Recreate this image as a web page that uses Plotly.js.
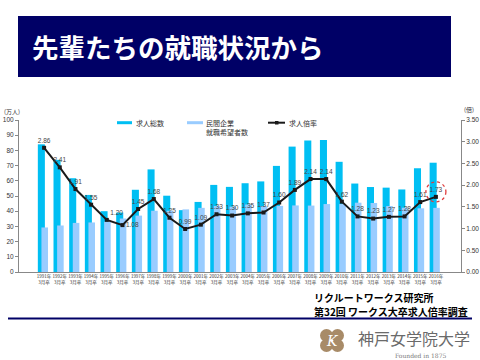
<!DOCTYPE html>
<html>
<head>
<meta charset="utf-8">
<script src="https://cdn.plot.ly/plotly-3.0.1.min.js"></script>
<style>html,body{margin:0;padding:0;background:#fff;}#chart{width:480px;height:360px;}</style>
</head>
<body>
<div id="chart"></div>
<script>
// ---- data ----
const categories = ['1991年<br>3月卒','1992年<br>3月卒','1993年<br>3月卒','1994年<br>3月卒','1995年<br>3月卒','1996年<br>3月卒','1997年<br>3月卒','1998年<br>3月卒','1999年<br>3月卒','2000年<br>3月卒','2001年<br>3月卒','2002年<br>3月卒','2003年<br>3月卒','2004年<br>3月卒','2005年<br>3月卒','2006年<br>3月卒','2007年<br>3月卒','2008年<br>3月卒','2009年<br>3月卒','2010年<br>3月卒','2011年<br>3月卒','2012年<br>3月卒','2013年<br>3月卒','2014年<br>3月卒','2015年<br>3月卒','2016年<br>3月卒'];
const totalJobs = [84.0,73.8,61.7,50.7,40.0,39.1,54.1,67.5,50.2,40.7,46.1,57.3,56.0,58.4,59.6,69.8,82.5,86.5,86.8,72.5,58.2,55.9,55.5,54.3,68.3,71.9];
const applicants = [29.3,30.6,32.3,32.6,33.2,35.2,37.1,40.3,40.3,41.2,42.2,43.4,43.0,44.4,43.3,43.5,43.8,43.7,44.7,44.7,45.6,45.4,43.4,42.3,41.9,42.2];
const ratio = [2.86,2.41,1.91,1.55,1.20,1.08,1.45,1.68,1.25,0.99,1.09,1.33,1.30,1.35,1.37,1.60,1.89,2.14,2.14,1.62,1.28,1.23,1.27,1.28,1.61,1.73];
const ratioLabelPos = ['top center','top center','top center','top center','top right','middle right','top center','top center','top center','top center','top center','top center','top center','top center','top center','top center','top center','top center','top center','top center','top center','top center','top center','top center','top center','top center'];
const seriesNames = ['求人総数','民間企業<br>就職希望者数','求人倍率'];
const sourceLines = ['リクルートワークス研究所','第32回 ワークス大卒求人倍率調査'];

// ---- geometry helpers (pixel -> paper) ----
const PL = 19, PR = 461, PT = 120, PB = 272;
const px = x => (x - PL) / (PR - PL);
const py = y => (PB - y) / (PB - PT);

const JP = '"Noto Sans CJK JP", "Noto Sans", sans-serif';
const cyan = '#00BFF3', light = '#99CCFF', navy = '#000066';

const traces = [
  {type:'bar', x:categories, y:totalJobs, name:seriesNames[0], marker:{color:cyan},
   width:0.45, offset:-0.40, hoverinfo:'skip'},
  {type:'bar', x:categories, y:applicants, name:seriesNames[1], marker:{color:light},
   width:0.42, offset:-0.17, hoverinfo:'skip'},
  {type:'scatter', mode:'lines+markers+text', x:categories, y:ratio, yaxis:'y2', name:seriesNames[2],
   line:{color:'#1a1a1a', width:2}, marker:{color:'#1a1a1a', size:4, symbol:'square'},
   texttemplate:'%{y:.2f}', textposition:ratioLabelPos,
   textfont:{family:'Arial, "Liberation Sans", sans-serif', size:6.5, color:'#444'}, cliponaxis:false}
];

const shapes = [
  {type:'rect', xref:'paper', yref:'paper', x0:px(18), x1:px(451), y0:py(77), y1:py(16), fillcolor:navy, line:{width:0}},
  {type:'line', xref:'paper', yref:'paper', x0:px(117), x1:px(132), y0:py(122.7), y1:py(122.7), line:{color:cyan, width:3}},
  {type:'line', xref:'paper', yref:'paper', x0:px(187), x1:px(203), y0:py(122.7), y1:py(122.7), line:{color:light, width:3}},
  {type:'line', xref:'paper', yref:'paper', x0:px(268), x1:px(285), y0:py(122.7), y1:py(122.7), line:{color:'#1a1a1a', width:2}},
  {type:'rect', xref:'paper', yref:'paper', x0:px(275), x1:px(278.5), y0:py(124.5), y1:py(121), fillcolor:'#1a1a1a', line:{width:0}},
  {type:'circle', xref:'x', yref:'y2', xsizemode:'pixel', ysizemode:'pixel', xanchor:25, yanchor:ratio[25],
   x0:-10, x1:10, y0:-5, y1:15, line:{color:'#E03C3C', width:1.3, dash:'dot'}},
  {type:'line', xref:'paper', yref:'paper', x0:px(8), x1:px(472), y0:py(318.5), y1:py(318.5), line:{color:navy, width:2}},
  {type:'circle', xref:'paper', yref:'paper', x0:px(320), x1:px(333), y0:py(342), y1:py(329), fillcolor:'#A88B68', line:{width:0}},
  {type:'circle', xref:'paper', yref:'paper', x0:px(331), x1:px(344), y0:py(342), y1:py(329), fillcolor:'#A88B68', line:{width:0}},
  {type:'circle', xref:'paper', yref:'paper', x0:px(320), x1:px(333), y0:py(352), y1:py(339), fillcolor:'#A88B68', line:{width:0}},
  {type:'circle', xref:'paper', yref:'paper', x0:px(331), x1:px(344), y0:py(352), y1:py(339), fillcolor:'#A88B68', line:{width:0}}
];

const ann = (x, y, text, opts) => Object.assign({xref:'paper', yref:'paper', x:px(x), y:py(y), text:text,
  showarrow:false, xanchor:'left', yanchor:'middle', font:{family:JP, size:7, color:'#333'}}, opts||{});

const annotations = [
  ann(30, 47, '<b>先輩たちの就職状況から</b>', {font:{family:JP, size:26.5, color:'#ffffff'}}),
  ann(2, 111, '(万人)', {font:{family:JP, size:6, color:'#333'}}),
  ann(462, 110, '(倍)', {font:{family:JP, size:6, color:'#333'}}),
  ann(134, 122.7, seriesNames[0]),
  ann(204, 127, seriesNames[1], {align:'left'}),
  ann(287, 122.7, seriesNames[2]),
  ann(312, 297.5, '<b>' + sourceLines[0] + '</b>', {font:{family:JP, size:10, color:'#000'}}),
  ann(312, 311.5, '<b>' + sourceLines[1] + '</b>', {font:{family:JP, size:10, color:'#000'}}),
  ann(332, 340.5, '<i>K</i>', {xanchor:'center', font:{family:'"DejaVu Serif", serif', size:14, color:'#ffffff'}}),
  ann(356, 338, '神戸女学院大学', {font:{family:JP, size:16, color:'#6a6a6a'}}),
  ann(393, 355, 'Founded in 1875', {font:{family:'"DejaVu Serif", "Liberation Serif", serif', size:6, color:'#777'}})
];

const layout = {
  width:480, height:360,
  margin:{l:PL, r:480-PR, t:PT, b:360-PB, pad:0},
  paper_bgcolor:'#ffffff', plot_bgcolor:'#ffffff',
  showlegend:false, barmode:'overlay',
  font:{family:JP, color:'#333'},
  xaxis:{type:'category', showgrid:false, showline:true, linecolor:'#888', linewidth:1, ticks:'',
    tickfont:{family:JP, size:4.5, color:'#333'}, tickangle:0, zeroline:false, fixedrange:true},
  yaxis:{range:[0,100], dtick:10, showgrid:false, showline:true, linecolor:'#888', linewidth:1,
    ticks:'outside', ticklen:3, tickcolor:'#888', tickfont:{family:'Arial, "Liberation Sans", sans-serif', size:6.5, color:'#333'},
    zeroline:false, fixedrange:true},
  yaxis2:{range:[0,3.5], dtick:0.5, tickformat:'.2f', overlaying:'y', side:'right', showgrid:false, showline:true,
    linecolor:'#888', linewidth:1, ticks:'outside', ticklen:3, tickcolor:'#888',
    tickfont:{family:'Arial, "Liberation Sans", sans-serif', size:6.5, color:'#333'}, zeroline:false, fixedrange:true},
  shapes:shapes,
  annotations:annotations
};

Plotly.newPlot('chart', traces, layout, {displayModeBar:false, staticPlot:true});
</script>
</body>
</html>
